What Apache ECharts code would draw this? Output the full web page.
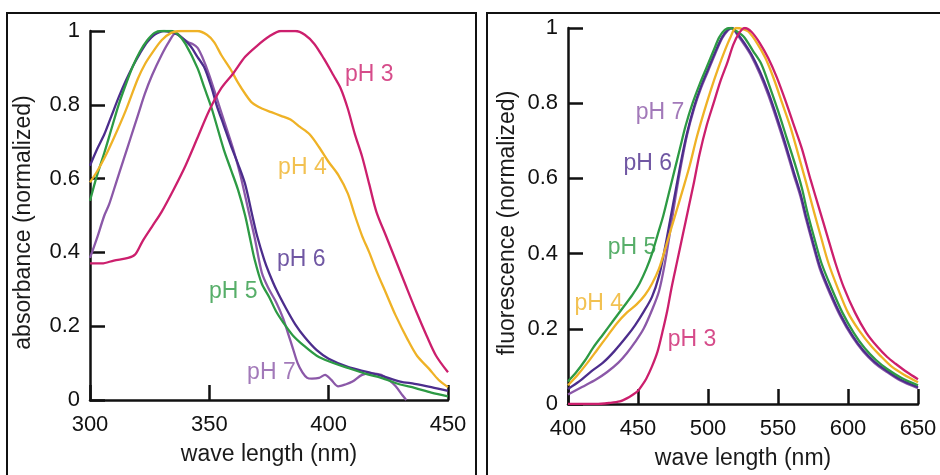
<!DOCTYPE html>
<html>
<head>
<meta charset="utf-8">
<script src="https://cdn.jsdelivr.net/npm/echarts@6/dist/echarts.min.js"></script>
<style>
  html, body { margin: 0; padding: 0; background: #fff; }
  #chart { width: 940px; height: 475px; }
</style>
</head>
<body>
<div id="chart"></div>
<script>
// absorbance (left panel), [wave length nm, normalized value]
const absPH3 = [[300,0.37],[305,0.37],[310,0.378],[316,0.385],[319,0.395],[322,0.43],[326,0.47],[330,0.51],[335,0.57],[340,0.635],[345,0.71],[350,0.785],[355,0.845],[360,0.885],[365,0.93],[370,0.96],[375,0.985],[380,1.0],[386,1.0],[390,0.99],[394,0.965],[398,0.925],[402,0.88],[405,0.845],[408,0.79],[411,0.72],[414,0.66],[417,0.585],[420,0.51],[424,0.445],[428,0.38],[432,0.315],[437,0.235],[441,0.175],[445,0.12],[450,0.075]];
const absPH4 = [[300,0.59],[303,0.62],[306,0.655],[310,0.71],[315,0.785],[320,0.87],[323,0.91],[326,0.94],[330,0.975],[334,0.995],[338,1.0],[345,1.0],[349,0.99],[352,0.97],[355,0.935],[359,0.895],[362,0.86],[365,0.83],[368,0.805],[372,0.79],[376,0.78],[380,0.77],[384,0.76],[388,0.74],[392,0.72],[396,0.685],[400,0.645],[404,0.61],[408,0.56],[411,0.50],[414,0.445],[417,0.40],[420,0.35],[424,0.29],[428,0.23],[433,0.165],[437,0.12],[442,0.085],[446,0.055],[450,0.035]];
const absPH5 = [[300,0.54],[303,0.61],[306,0.67],[309,0.735],[312,0.80],[315,0.855],[318,0.905],[321,0.945],[324,0.975],[327,0.995],[330,1.0],[334,1.0],[337,0.99],[340,0.965],[345,0.90],[348,0.845],[351,0.79],[356,0.68],[359,0.625],[362,0.57],[365,0.50],[367,0.44],[369,0.38],[372,0.315],[375,0.28],[378,0.24],[381,0.21],[385,0.175],[390,0.145],[395,0.12],[400,0.105],[408,0.087],[416,0.07],[422,0.06],[430,0.042],[436,0.033],[443,0.02],[450,0.01]];
const absPH6 = [[300,0.635],[303,0.68],[306,0.72],[309,0.77],[312,0.82],[315,0.865],[318,0.905],[321,0.94],[324,0.97],[327,0.99],[331,1.0],[335,0.995],[338,0.985],[342,0.96],[345,0.93],[348,0.90],[351,0.845],[353,0.80],[356,0.745],[359,0.69],[362,0.64],[365,0.585],[368,0.50],[370,0.445],[373,0.38],[375,0.345],[378,0.30],[382,0.25],[386,0.205],[390,0.17],[395,0.135],[400,0.112],[408,0.09],[416,0.076],[422,0.066],[430,0.05],[436,0.044],[443,0.035],[450,0.025]];
const absPH7 = [[300,0.385],[303,0.44],[306,0.50],[308,0.53],[311,0.59],[314,0.65],[317,0.71],[320,0.77],[323,0.83],[326,0.88],[330,0.935],[333,0.97],[336,0.995],[338,0.985],[341,0.97],[343,0.965],[345,0.955],[347,0.93],[350,0.88],[353,0.82],[356,0.76],[360,0.68],[363,0.61],[366.5,0.51],[369,0.44],[372,0.345],[375,0.30],[378,0.265],[381,0.22],[383,0.18],[385,0.14],[387,0.10],[389,0.075],[391,0.06],[393,0.058],[396,0.06],[398.5,0.068],[401,0.055],[404,0.037],[407,0.042],[410,0.05],[414,0.068],[418,0.072],[422,0.068],[425,0.055],[428,0.038],[431,0.012],[432.5,0]];

// fluorescence (right panel)
const fluPH3 = [[400,0],[420,0],[430,0.003],[437,0.007],[442,0.015],[446,0.024],[450,0.035],[453,0.05],[456,0.068],[460,0.10],[464,0.14],[468,0.2],[471,0.25],[474,0.31],[478,0.38],[482,0.45],[486,0.52],[490,0.59],[494,0.665],[499,0.74],[504,0.80],[509,0.86],[514,0.91],[518,0.955],[522,0.985],[526,1.0],[531,0.99],[537,0.96],[543,0.92],[549,0.87],[555,0.81],[561,0.745],[567,0.68],[573,0.60],[579,0.525],[585,0.45],[591,0.375],[597,0.31],[605,0.243],[613,0.19],[621,0.152],[628,0.125],[634,0.107],[642,0.085],[650,0.066]];
const fluPH4 = [[400,0.05],[407,0.078],[414,0.11],[421,0.145],[428,0.18],[435,0.215],[442,0.243],[449,0.265],[455,0.29],[460,0.32],[465,0.36],[470,0.42],[474,0.47],[478,0.52],[482,0.57],[487,0.635],[492,0.71],[497,0.775],[502,0.835],[507,0.89],[512,0.94],[516,0.975],[520,1.0],[525,0.997],[529,0.99],[535,0.96],[541,0.92],[547,0.865],[553,0.80],[559,0.735],[564,0.67],[570,0.59],[576,0.507],[581,0.44],[586,0.375],[593,0.305],[600,0.243],[608,0.195],[617,0.152],[624,0.125],[631,0.10],[640,0.078],[650,0.058]];
const fluPH5 = [[400,0.06],[406,0.085],[412,0.115],[418,0.15],[425,0.185],[432,0.22],[440,0.26],[446,0.29],[451,0.32],[456,0.36],[460,0.40],[464,0.45],[468,0.50],[472,0.56],[476,0.62],[480,0.68],[484,0.74],[489,0.80],[494,0.85],[499,0.895],[504,0.94],[508,0.975],[512,0.995],[516,1.0],[521,0.99],[526,0.975],[532,0.94],[538,0.905],[544,0.845],[550,0.78],[556,0.71],[562,0.64],[567,0.575],[571,0.51],[576,0.44],[581,0.375],[588,0.31],[596,0.243],[604,0.19],[612,0.148],[620,0.117],[628,0.093],[638,0.07],[650,0.05]];
const fluPH6 = [[400,0.04],[408,0.06],[416,0.085],[425,0.11],[433,0.14],[442,0.18],[448,0.21],[454,0.245],[460,0.285],[465,0.34],[469,0.41],[473,0.49],[477,0.57],[481,0.65],[485,0.72],[490,0.79],[495,0.845],[500,0.89],[505,0.935],[510,0.975],[514,0.995],[517,1.0],[521,0.985],[526,0.96],[531,0.93],[537,0.885],[543,0.83],[549,0.765],[555,0.695],[561,0.62],[566,0.56],[570,0.50],[575,0.43],[580,0.365],[587,0.30],[595,0.235],[603,0.183],[611,0.142],[619,0.112],[627,0.09],[637,0.066],[650,0.045]];
const fluPH7 = [[400,0.025],[410,0.045],[420,0.065],[428,0.085],[436,0.11],[442,0.135],[448,0.165],[454,0.2],[460,0.25],[465,0.3],[469,0.37],[473,0.46],[477,0.555],[481,0.64],[485,0.715],[490,0.785],[495,0.84],[500,0.885],[505,0.93],[510,0.972],[514,0.993],[517,1.0],[521,0.982],[526,0.955],[531,0.925],[537,0.878],[543,0.822],[549,0.757],[555,0.687],[561,0.612],[566,0.552],[570,0.492],[575,0.423],[580,0.358],[587,0.294],[595,0.23],[603,0.179],[611,0.139],[619,0.109],[627,0.087],[637,0.063],[650,0.042]];

const phNames = ['pH 3', 'pH 4', 'pH 5', 'pH 6', 'pH 7'];
const phColors = ['#cc1f6d', '#efb226', '#2d9a44', '#4c2d8c', '#8b58a8'];

// label anchors in data units: [text, wave length, value]
const absLabels = [['pH 3', 417, 0.883], ['pH 4', 389, 0.629], ['pH 5', 360, 0.293], ['pH 6', 388.5, 0.379], ['pH 7', 376, 0.073]];
const fluLabels = [['pH 3', 488.6, 0.171], ['pH 4', 422, 0.266], ['pH 5', 445.7, 0.417], ['pH 6', 457, 0.638], ['pH 7', 465.7, 0.776]];

const FONT = '"Liberation Sans", Arial, Helvetica, sans-serif';

function makeX(idx, min, max) {
    return {
        type: 'value', gridIndex: idx, min: min, max: max, interval: 50,
        name: 'wave length (nm)', nameLocation: 'middle', nameGap: 43,
        nameTextStyle: { fontFamily: FONT, fontSize: 23, color: '#1a1a1a' },
        axisLine: { show: true, onZero: false, lineStyle: { color: '#111', width: 2.5 } },
        axisTick: { show: true, inside: true, length: 15, lineStyle: { color: '#111', width: 2.5 } },
        axisLabel: { margin: 14, fontFamily: FONT, fontSize: 22, color: '#111' },
        splitLine: { show: false }
    };
}

function makeY(idx, title, gap) {
    return {
        type: 'value', gridIndex: idx, min: 0, max: 1, interval: 0.2,
        name: title, nameLocation: 'middle', nameGap: gap,
        nameTextStyle: { fontFamily: FONT, fontSize: 23, color: '#1a1a1a', padding: [0, 14, 0, 0] },
        axisLine: { show: true, onZero: false, lineStyle: { color: '#111', width: 2.5 } },
        axisTick: { show: true, inside: true, length: 15, lineStyle: { color: '#111', width: 2.5 } },
        axisLabel: { margin: 10, fontFamily: FONT, fontSize: 22, color: '#111' },
        splitLine: { show: false }
    };
}

function lineSeries(data, color, idx) {
    return {
        type: 'line', data: data, xAxisIndex: idx, yAxisIndex: idx,
        showSymbol: false, symbol: 'none', smooth: 0.3,
        lineStyle: { color: color, width: 2.3 },
        silent: true
    };
}

function labelSeries(labels, idx) {
    // invisible carrier series for the pH tags
    return {
        type: 'scatter', xAxisIndex: idx, yAxisIndex: idx,
        symbolSize: 0, silent: true,
        data: labels.map(function (l) {
            let c = phColors[phNames.indexOf(l[0])];
            return {
                value: [l[1], l[2]],
                label: { show: true, position: 'inside', formatter: l[0],
                    fontFamily: FONT, fontSize: 23, color: c }
            };
        })
    };
}

const absData = [absPH3, absPH4, absPH5, absPH6, absPH7];
const fluData = [fluPH3, fluPH4, fluPH5, fluPH6, fluPH7];
const drawOrder = [4, 3, 2, 1, 0];

let series = [];
drawOrder.forEach(function (i) { series.push(lineSeries(absData[i], phColors[i], 0)); });
drawOrder.forEach(function (i) { series.push(lineSeries(fluData[i], phColors[i], 1)); });
series.push(labelSeries(absLabels, 0));
series.push(labelSeries(fluLabels, 1));

let myChart = echarts.init(document.getElementById('chart'));
let option = {
    animation: false,
    backgroundColor: '#fff',
    grid: [
        { left: 90, right: 492, top: 31, bottom: 75 },
        { left: 568, right: 22, top: 28, bottom: 68 }
    ],
    xAxis: [makeX(0, 300, 450), makeX(1, 400, 650)],
    yAxis: [makeY(0, 'absorbance (normalized)', 55), makeY(1, 'fluorescence (normalized)', 49)],
    graphic: [
        { type: 'rect', shape: { x: 7, y: 13, width: 469, height: 480 },
          style: { fill: 'none', stroke: '#111', lineWidth: 2 }, silent: true },
        { type: 'rect', shape: { x: 487, y: 13, width: 470, height: 480 },
          style: { fill: 'none', stroke: '#111', lineWidth: 2 }, silent: true }
    ],
    series: series
};
option && myChart.setOption(option);
</script>
</body>
</html>
